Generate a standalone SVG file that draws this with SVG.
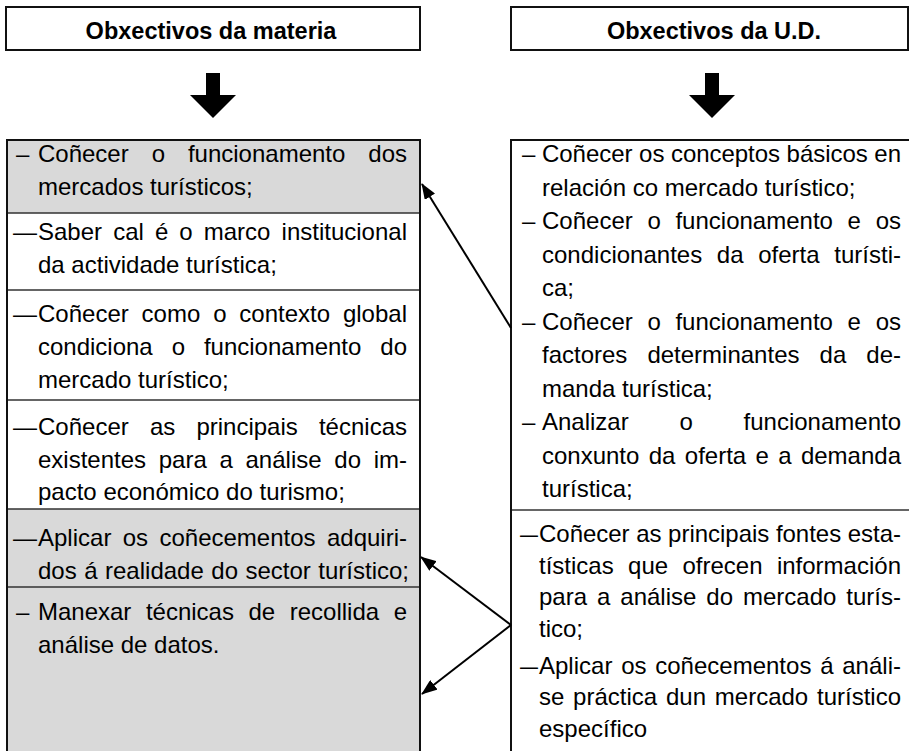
<svg xmlns="http://www.w3.org/2000/svg" width="909" height="751" viewBox="0 0 909 751">
<style>
text{font-family:"Liberation Sans",Arial,sans-serif;fill:#000}
.h{font-size:23.5px;font-weight:bold;text-anchor:middle}
.t{font-size:24px}
.box{fill:#fff;stroke:#111;stroke-width:2}
.g{fill:#d9d9d9}
.w{fill:#fff}
.sep{stroke:#333;stroke-width:1.5;fill:none}
.edge{stroke:#111;stroke-width:2;fill:none}
.con{stroke:#000;stroke-width:2;fill:none}
</style>
<defs>
<marker id="ah" viewBox="0 0 16 12" refX="15" refY="6" markerWidth="16" markerHeight="12" markerUnits="userSpaceOnUse" orient="auto">
<path d="M0,0 L16,6 L0,12 Z" fill="#000"/>
</marker>
</defs>
<rect width="909" height="751" fill="#fff"/>

<g id="header-materia">
<rect class="box" x="6" y="7" width="414" height="43"/>
<text class="h" x="211" y="39">Obxectivos da materia</text>
</g>
<g id="header-ud">
<rect class="box" x="511" y="7" width="397" height="43"/>
<text class="h" x="714" y="39">Obxectivos da U.D.</text>
</g>

<g id="arrow-left">
<path d="M206,73 H220 V95 H236 L213,118 L190,95 H206 Z" fill="#000"/>
</g>
<g id="arrow-right">
<path d="M705,73 H719 V95 H735 L712,118 L689,95 H705 Z" fill="#000"/>
</g>

<g id="materia-list">
<rect class="g" x="6" y="140" width="414" height="73"/>
<rect class="w" x="6" y="213" width="414" height="77"/>
<rect class="w" x="6" y="290" width="414" height="110"/>
<rect class="w" x="6" y="400" width="414" height="109"/>
<rect class="g" x="6" y="509" width="414" height="78"/>
<rect class="g" x="6" y="587" width="414" height="170"/>
<path class="sep" d="M6,213 H420 M6,290 H420 M6,400 H420 M6,509 H420 M6,587 H420"/>
<path class="edge" d="M7,760 V140 H420 V760"/>

<g id="m1">
<text class="t" x="16" y="162">–</text>
<text class="t" x="38" y="162" textLength="369" lengthAdjust="spacing" style="word-spacing:16.3px">Coñecer o funcionamento dos</text>
<text class="t" x="38" y="195">mercados turísticos;</text>
</g>
<g id="m2">
<text class="t" x="13" y="240">—</text>
<text class="t" x="38" y="240" textLength="369" lengthAdjust="spacing" style="word-spacing:4.4px">Saber cal é o marco institucional</text>
<text class="t" x="38" y="273">da actividade turística;</text>
</g>
<g id="m3">
<text class="t" x="13" y="322">—</text>
<text class="t" x="38" y="322" textLength="369" lengthAdjust="spacing" style="word-spacing:6.2px">Coñecer como o contexto global</text>
<text class="t" x="38" y="355" textLength="369" lengthAdjust="spacing" style="word-spacing:12.3px">condiciona o funcionamento do</text>
<text class="t" x="38" y="388">mercado turístico;</text>
</g>
<g id="m4">
<text class="t" x="13" y="435">—</text>
<text class="t" x="38" y="435" textLength="369" lengthAdjust="spacing" style="word-spacing:14.5px">Coñecer as principais técnicas</text>
<text class="t" x="38" y="468" textLength="369" lengthAdjust="spacing" style="word-spacing:6px">existentes para a análise do im-</text>
<text class="t" x="38" y="500">pacto económico do turismo;</text>
</g>
<g id="m5">
<text class="t" x="13" y="546">—</text>
<text class="t" x="38" y="546" textLength="369" lengthAdjust="spacing" style="word-spacing:4.7px">Aplicar os coñecementos adquiri-</text>
<text class="t" x="38" y="579" textLength="371" lengthAdjust="spacing" style="word-spacing:0.8px">dos á realidade do sector turístico;</text>
</g>
<g id="m6">
<text class="t" x="16" y="620">–</text>
<text class="t" x="38" y="620" textLength="369" lengthAdjust="spacing" style="word-spacing:7.9px">Manexar técnicas de recollida e</text>
<text class="t" x="38" y="653">análise de datos.</text>
</g>
</g>

<g id="ud-list">
<rect class="w" x="511" y="140" width="397" height="620"/>
<path class="sep" d="M511,510 H909"/>
<path class="edge" d="M511,760 V140 H909"/>

<g id="u1">
<text class="t" x="522" y="162">–</text>
<text class="t" x="542" y="162" textLength="359" lengthAdjust="spacing">Coñecer os conceptos básicos en</text>
<text class="t" x="542" y="195.5">relación co mercado turístico;</text>
<text class="t" x="522" y="229">–</text>
<text class="t" x="542" y="229" textLength="359" lengthAdjust="spacing" style="word-spacing:8px">Coñecer o funcionamento e os</text>
<text class="t" x="542" y="262.5" textLength="359" lengthAdjust="spacing" style="word-spacing:8px">condicionantes da oferta turísti-</text>
<text class="t" x="542" y="296">ca;</text>
<text class="t" x="522" y="329.5">–</text>
<text class="t" x="542" y="329.5" textLength="359" lengthAdjust="spacing" style="word-spacing:8px">Coñecer o funcionamento e os</text>
<text class="t" x="542" y="363" textLength="359" lengthAdjust="spacing" style="word-spacing:13.4px">factores determinantes da de-</text>
<text class="t" x="542" y="396.5">manda turística;</text>
<text class="t" x="522" y="430">–</text>
<text class="t" x="542" y="430" textLength="359" lengthAdjust="spacing" style="word-spacing:44.1px">Analizar o funcionamento</text>
<text class="t" x="542" y="463.5" textLength="359" lengthAdjust="spacing" style="word-spacing:2.7px">conxunto da oferta e a demanda</text>
<text class="t" x="542" y="497">turística;</text>
</g>
<g id="u2">
<text class="t" x="520" y="541.5" textLength="18" lengthAdjust="spacingAndGlyphs">–</text>
<text class="t" x="539" y="541.5" textLength="362" lengthAdjust="spacing">Coñecer as principais fontes esta-</text>
<text class="t" x="539" y="573.5" textLength="362" lengthAdjust="spacing" style="word-spacing:7.7px">tísticas que ofrecen información</text>
<text class="t" x="539" y="605" textLength="362" lengthAdjust="spacing" style="word-spacing:3.3px">para a análise do mercado turís-</text>
<text class="t" x="539" y="637">tico;</text>
<text class="t" x="520" y="673.5" textLength="18" lengthAdjust="spacingAndGlyphs">–</text>
<text class="t" x="539" y="673.5" textLength="362" lengthAdjust="spacing" style="word-spacing:2.1px">Aplicar os coñecementos á análi-</text>
<text class="t" x="539" y="705" textLength="362" lengthAdjust="spacing" style="word-spacing:2.1px">se práctica dun mercado turístico</text>
<text class="t" x="539" y="737">específico</text>
</g>
</g>

<g id="connectors">
<path class="con" d="M511,328 L422,184" marker-end="url(#ah)"/>
<path class="con" d="M511,625 L421,557" marker-end="url(#ah)"/>
<path class="con" d="M511,625 L422,694" marker-end="url(#ah)"/>
</g>
</svg>
